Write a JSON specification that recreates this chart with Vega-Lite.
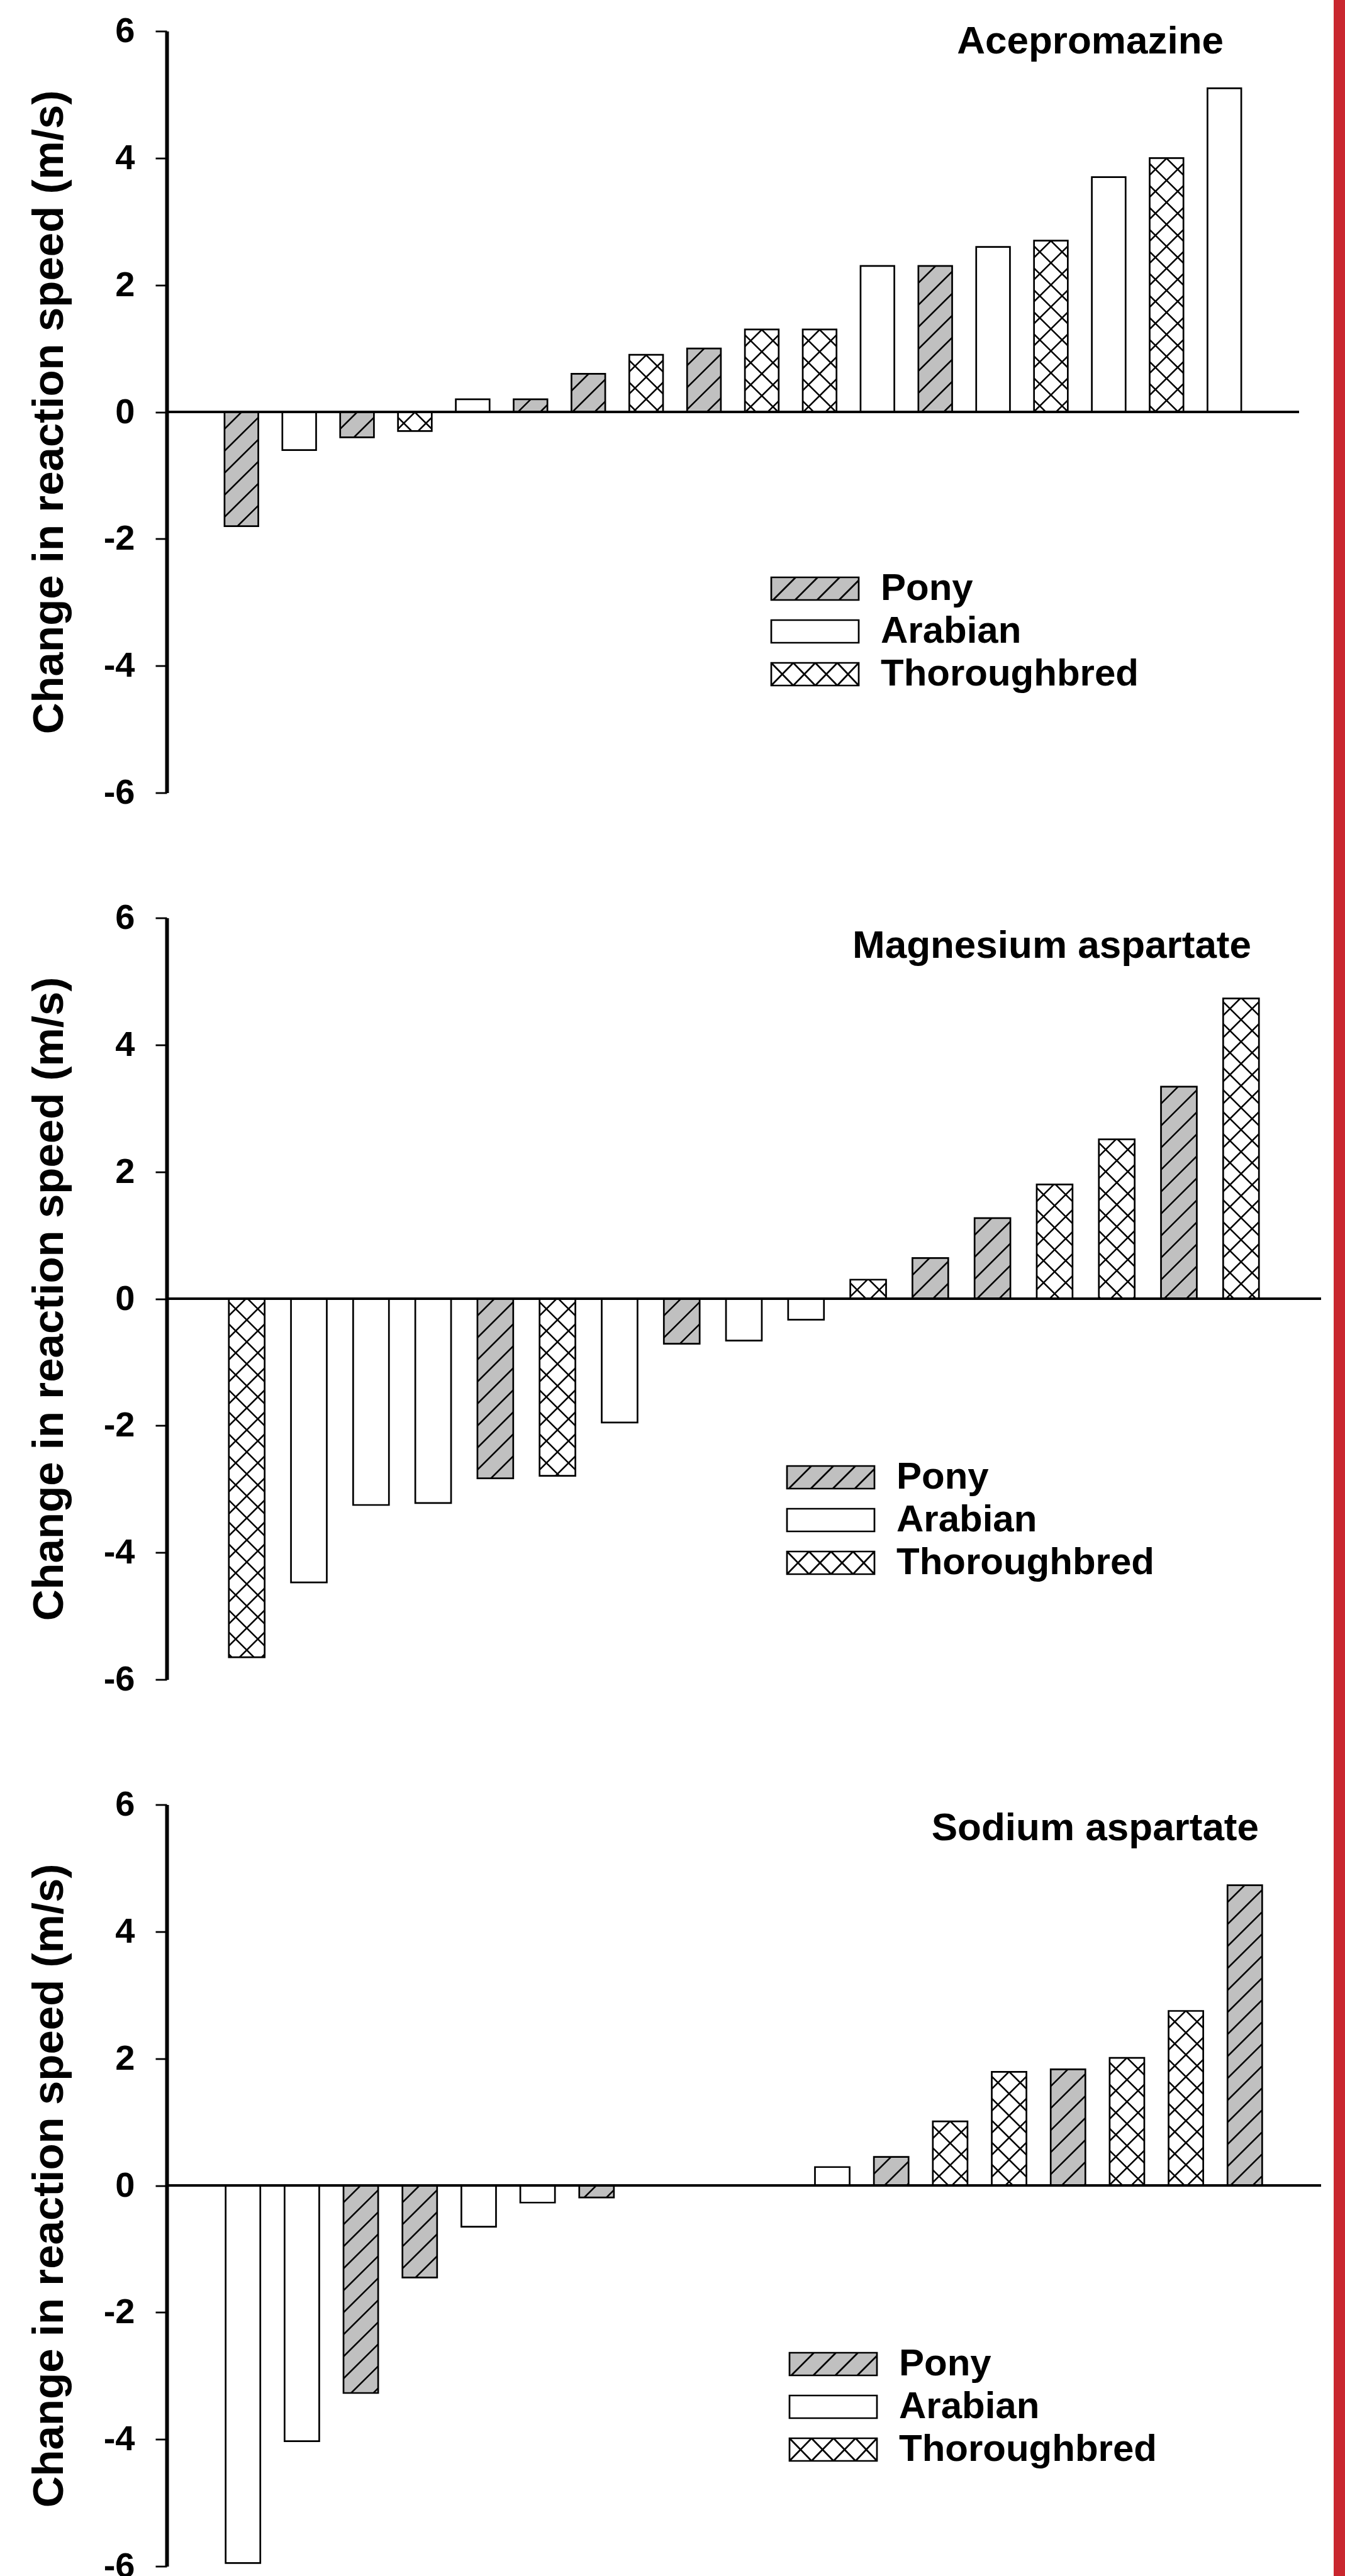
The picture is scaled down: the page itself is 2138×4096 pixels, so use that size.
{
  "$schema": "https://vega.github.io/schema/vega-lite/v6.json",
  "padding": {"left": 44, "top": 0, "right": 0, "bottom": 0},
  "background": "white",
  "params": [
    {"name": "hatchStops", "value": [
      {"offset": 0.03514, "color": "rgba(0,0,0,0)"}, {"offset": 0.03686, "color": "#000"}, {"offset": 0.04029, "color": "#000"}, {"offset": 0.042, "color": "rgba(0,0,0,0)"},
      {"offset": 0.08514, "color": "rgba(0,0,0,0)"}, {"offset": 0.08686, "color": "#000"}, {"offset": 0.09029, "color": "#000"}, {"offset": 0.092, "color": "rgba(0,0,0,0)"},
      {"offset": 0.13514, "color": "rgba(0,0,0,0)"}, {"offset": 0.13686, "color": "#000"}, {"offset": 0.14029, "color": "#000"}, {"offset": 0.142, "color": "rgba(0,0,0,0)"},
      {"offset": 0.18514, "color": "rgba(0,0,0,0)"}, {"offset": 0.18686, "color": "#000"}, {"offset": 0.19029, "color": "#000"}, {"offset": 0.192, "color": "rgba(0,0,0,0)"},
      {"offset": 0.23514, "color": "rgba(0,0,0,0)"}, {"offset": 0.23686, "color": "#000"}, {"offset": 0.24029, "color": "#000"}, {"offset": 0.242, "color": "rgba(0,0,0,0)"},
      {"offset": 0.28514, "color": "rgba(0,0,0,0)"}, {"offset": 0.28686, "color": "#000"}, {"offset": 0.29029, "color": "#000"}, {"offset": 0.292, "color": "rgba(0,0,0,0)"},
      {"offset": 0.33514, "color": "rgba(0,0,0,0)"}, {"offset": 0.33686, "color": "#000"}, {"offset": 0.34029, "color": "#000"}, {"offset": 0.342, "color": "rgba(0,0,0,0)"},
      {"offset": 0.38514, "color": "rgba(0,0,0,0)"}, {"offset": 0.38686, "color": "#000"}, {"offset": 0.39029, "color": "#000"}, {"offset": 0.392, "color": "rgba(0,0,0,0)"},
      {"offset": 0.43514, "color": "rgba(0,0,0,0)"}, {"offset": 0.43686, "color": "#000"}, {"offset": 0.44029, "color": "#000"}, {"offset": 0.442, "color": "rgba(0,0,0,0)"},
      {"offset": 0.48514, "color": "rgba(0,0,0,0)"}, {"offset": 0.48686, "color": "#000"}, {"offset": 0.49029, "color": "#000"}, {"offset": 0.492, "color": "rgba(0,0,0,0)"},
      {"offset": 0.53514, "color": "rgba(0,0,0,0)"}, {"offset": 0.53686, "color": "#000"}, {"offset": 0.54029, "color": "#000"}, {"offset": 0.542, "color": "rgba(0,0,0,0)"},
      {"offset": 0.58514, "color": "rgba(0,0,0,0)"}, {"offset": 0.58686, "color": "#000"}, {"offset": 0.59029, "color": "#000"}, {"offset": 0.592, "color": "rgba(0,0,0,0)"},
      {"offset": 0.63514, "color": "rgba(0,0,0,0)"}, {"offset": 0.63686, "color": "#000"}, {"offset": 0.64029, "color": "#000"}, {"offset": 0.642, "color": "rgba(0,0,0,0)"},
      {"offset": 0.68514, "color": "rgba(0,0,0,0)"}, {"offset": 0.68686, "color": "#000"}, {"offset": 0.69029, "color": "#000"}, {"offset": 0.692, "color": "rgba(0,0,0,0)"},
      {"offset": 0.73514, "color": "rgba(0,0,0,0)"}, {"offset": 0.73686, "color": "#000"}, {"offset": 0.74029, "color": "#000"}, {"offset": 0.742, "color": "rgba(0,0,0,0)"},
      {"offset": 0.78514, "color": "rgba(0,0,0,0)"}, {"offset": 0.78686, "color": "#000"}, {"offset": 0.79029, "color": "#000"}, {"offset": 0.792, "color": "rgba(0,0,0,0)"},
      {"offset": 0.83514, "color": "rgba(0,0,0,0)"}, {"offset": 0.83686, "color": "#000"}, {"offset": 0.84029, "color": "#000"}, {"offset": 0.842, "color": "rgba(0,0,0,0)"},
      {"offset": 0.88514, "color": "rgba(0,0,0,0)"}, {"offset": 0.88686, "color": "#000"}, {"offset": 0.89029, "color": "#000"}, {"offset": 0.892, "color": "rgba(0,0,0,0)"},
      {"offset": 0.93514, "color": "rgba(0,0,0,0)"}, {"offset": 0.93686, "color": "#000"}, {"offset": 0.94029, "color": "#000"}, {"offset": 0.942, "color": "rgba(0,0,0,0)"},
      {"offset": 0.98514, "color": "rgba(0,0,0,0)"}, {"offset": 0.98686, "color": "#000"}, {"offset": 0.99029, "color": "#000"}, {"offset": 0.992, "color": "rgba(0,0,0,0)"}
    ]}
  ],
  "datasets": {
    "horses": [
      {"drug": "Acepromazine", "horse": 1, "breed": "Pony", "change": -1.8},
      {"drug": "Acepromazine", "horse": 2, "breed": "Arabian", "change": -0.6},
      {"drug": "Acepromazine", "horse": 3, "breed": "Pony", "change": -0.4},
      {"drug": "Acepromazine", "horse": 4, "breed": "Thoroughbred", "change": -0.3},
      {"drug": "Acepromazine", "horse": 5, "breed": "Arabian", "change": 0.2},
      {"drug": "Acepromazine", "horse": 6, "breed": "Pony", "change": 0.2},
      {"drug": "Acepromazine", "horse": 7, "breed": "Pony", "change": 0.6},
      {"drug": "Acepromazine", "horse": 8, "breed": "Thoroughbred", "change": 0.9},
      {"drug": "Acepromazine", "horse": 9, "breed": "Pony", "change": 1.0},
      {"drug": "Acepromazine", "horse": 10, "breed": "Thoroughbred", "change": 1.3},
      {"drug": "Acepromazine", "horse": 11, "breed": "Thoroughbred", "change": 1.3},
      {"drug": "Acepromazine", "horse": 12, "breed": "Arabian", "change": 2.3},
      {"drug": "Acepromazine", "horse": 13, "breed": "Pony", "change": 2.3},
      {"drug": "Acepromazine", "horse": 14, "breed": "Arabian", "change": 2.6},
      {"drug": "Acepromazine", "horse": 15, "breed": "Thoroughbred", "change": 2.7},
      {"drug": "Acepromazine", "horse": 16, "breed": "Arabian", "change": 3.7},
      {"drug": "Acepromazine", "horse": 17, "breed": "Thoroughbred", "change": 4.0},
      {"drug": "Acepromazine", "horse": 18, "breed": "Arabian", "change": 5.1},
      {"drug": "Magnesium aspartate", "horse": 1, "breed": "Thoroughbred", "change": -5.65},
      {"drug": "Magnesium aspartate", "horse": 2, "breed": "Arabian", "change": -4.47},
      {"drug": "Magnesium aspartate", "horse": 3, "breed": "Arabian", "change": -3.25},
      {"drug": "Magnesium aspartate", "horse": 4, "breed": "Arabian", "change": -3.22},
      {"drug": "Magnesium aspartate", "horse": 5, "breed": "Pony", "change": -2.83},
      {"drug": "Magnesium aspartate", "horse": 6, "breed": "Thoroughbred", "change": -2.79},
      {"drug": "Magnesium aspartate", "horse": 7, "breed": "Arabian", "change": -1.95},
      {"drug": "Magnesium aspartate", "horse": 8, "breed": "Pony", "change": -0.71},
      {"drug": "Magnesium aspartate", "horse": 9, "breed": "Arabian", "change": -0.66},
      {"drug": "Magnesium aspartate", "horse": 10, "breed": "Arabian", "change": -0.33},
      {"drug": "Magnesium aspartate", "horse": 11, "breed": "Thoroughbred", "change": 0.3},
      {"drug": "Magnesium aspartate", "horse": 12, "breed": "Pony", "change": 0.64},
      {"drug": "Magnesium aspartate", "horse": 13, "breed": "Pony", "change": 1.27},
      {"drug": "Magnesium aspartate", "horse": 14, "breed": "Thoroughbred", "change": 1.8},
      {"drug": "Magnesium aspartate", "horse": 15, "breed": "Thoroughbred", "change": 2.51},
      {"drug": "Magnesium aspartate", "horse": 16, "breed": "Pony", "change": 3.34},
      {"drug": "Magnesium aspartate", "horse": 17, "breed": "Thoroughbred", "change": 4.73},
      {"drug": "Sodium aspartate", "horse": 1, "breed": "Arabian", "change": -5.95},
      {"drug": "Sodium aspartate", "horse": 2, "breed": "Arabian", "change": -4.03},
      {"drug": "Sodium aspartate", "horse": 3, "breed": "Pony", "change": -3.27},
      {"drug": "Sodium aspartate", "horse": 4, "breed": "Pony", "change": -1.45},
      {"drug": "Sodium aspartate", "horse": 5, "breed": "Arabian", "change": -0.65},
      {"drug": "Sodium aspartate", "horse": 6, "breed": "Arabian", "change": -0.27},
      {"drug": "Sodium aspartate", "horse": 7, "breed": "Pony", "change": -0.19},
      {"drug": "Sodium aspartate", "horse": 11, "breed": "Arabian", "change": 0.29},
      {"drug": "Sodium aspartate", "horse": 12, "breed": "Pony", "change": 0.45},
      {"drug": "Sodium aspartate", "horse": 13, "breed": "Thoroughbred", "change": 1.01},
      {"drug": "Sodium aspartate", "horse": 14, "breed": "Thoroughbred", "change": 1.79},
      {"drug": "Sodium aspartate", "horse": 15, "breed": "Pony", "change": 1.83},
      {"drug": "Sodium aspartate", "horse": 16, "breed": "Thoroughbred", "change": 2.01},
      {"drug": "Sodium aspartate", "horse": 17, "breed": "Thoroughbred", "change": 2.75},
      {"drug": "Sodium aspartate", "horse": 18, "breed": "Pony", "change": 4.73}
    ]
  },
  "config": {
    "view": {"stroke": null},
    "font": "Liberation Sans",
    "axis": {
      "grid": false, "domainColor": "black", "domainWidth": 6, "tickColor": "black", "tickWidth": 2.8, "tickSize": 18,
      "labelFont": "Liberation Sans", "labelFontWeight": "bold", "labelFontSize": 56, "labelColor": "black", "labelPadding": 33,
      "labelOverlap": false, "labelFlush": false, "labelBound": false,
      "titleFont": "Liberation Sans", "titleFontWeight": "bold", "titleFontSize": 69, "titleColor": "black", "titlePadding": 51
    },
    "legend": {
      "orient": "none", "labelFont": "Liberation Sans", "labelFontWeight": "bold", "labelFontSize": 60, "labelColor": "black",
      "labelOffset": 74, "labelLimit": 1000, "symbolSize": 3364, "symbolStrokeWidth": 2.7,
      "symbolOpacity": 1, "rowPadding": 7, "padding": 0
    },
    "title": {"font": "Liberation Sans", "fontWeight": "bold", "fontSize": 62, "color": "black", "anchor": "end", "frame": "group", "offset": 0, "baseline": "alphabetic"}
  },
  "hconcat": [
    {
      "vconcat": [
        {
          "width": 1800, "height": 1211,
          "data": {"name": "horses"},
          "transform": [{"filter": "datum.drug === 'Acepromazine'"}],
          "title": {"text": "Acepromazine", "dx": -120, "dy": 80},
          "layer": [
            {
              "encoding": {
                "x": {"field": "horse", "type": "ordinal", "scale": {"paddingInner": 0.416, "paddingOuter": 1.11}, "axis": null},
                "y": {"field": "change", "type": "quantitative", "scale": {"domain": [-6, 6], "nice": false, "zero": false}, "axis": {"title": "Change in reaction speed (m/s)", "values": [-6, -4, -2, 0, 2, 4, 6], "labelExpr": "datum.value < 0 ? '-' + abs(datum.value) : '' + datum.value", "domainWidth": 6}}
              },
              "layer": [
                {"mark": {"type": "bar", "stroke": "black", "strokeWidth": 2.7},
                 "encoding": {"fill": {"field": "breed", "type": "nominal", "scale": {"domain": ["Pony", "Arabian", "Thoroughbred"], "range": ["#c0c0c0", "#ffffff", "#ffffff"]}, "legend": {"title": null, "legendX": 1000, "legendY": 856}}}},
                {"transform": [{"filter": "datum.breed !== 'Arabian'"}],
                 "mark": {"type": "bar", "fill": {"expr": "{gradient:'linear',x1:0,y1:0,x2:700*53.1/(2819.6+pow(abs(datum.change)*100.92,2)),y2:700*abs(datum.change)*100.92/(2819.6+pow(abs(datum.change)*100.92,2)),stops:hatchStops}"}}},
                {"transform": [{"filter": "datum.breed === 'Thoroughbred'"}],
                 "mark": {"type": "bar", "fill": {"expr": "{gradient:'linear',x1:1,y1:0,x2:1-700*53.1/(2819.6+pow(abs(datum.change)*100.92,2)),y2:700*abs(datum.change)*100.92/(2819.6+pow(abs(datum.change)*100.92,2)),stops:hatchStops}"}}},
                {"transform": [{"filter": "false"}],
                 "mark": {"type": "point", "filled": true, "opacity": 1, "stroke": "black", "strokeWidth": 2.7, "size": 3364},
                 "encoding": {
                   "fill": {"field": "breed", "type": "nominal", "scale": {"domain": ["Pony", "Arabian", "Thoroughbred"], "range": ["#c0c0c0", "#ffffff", "#ffffff"]}, "legend": {"title": null, "legendX": 1000, "legendY": 856}},
                   "shape": {"field": "breed", "type": "nominal", "scale": {"domain": ["Pony", "Arabian", "Thoroughbred"], "range": [
                     "M-2.3966,-0.6207H2.3966V0.6207H-2.3966Z M-2.3,0.6207L-1.0586,-0.6207 M-1.0931,0.6207L0.1483,-0.6207 M0.1138,0.6207L1.3552,-0.6207 M1.3207,0.6207L2.3966,-0.4552",
                     "M-2.3966,-0.6207H2.3966V0.6207H-2.3966Z",
                     "M-2.3966,-0.6207H2.3966V0.6207H-2.3966Z M-2.3966,-0.6207L-1.1897,0.6207 M-1.1897,-0.6207L0.0172,0.6207 M0.0172,-0.6207L1.2241,0.6207 M1.2241,-0.6207L2.3966,0.6207 M-2.3966,0.6207L-1.1897,-0.6207 M-1.1897,0.6207L0.0172,-0.6207 M0.0172,0.6207L1.2241,-0.6207 M1.2241,0.6207L2.3966,-0.6207"
                   ]}, "legend": {"title": null, "legendX": 1000, "legendY": 856}}
                 }}
              ]
            },
            {"mark": {"type": "rule", "color": "black", "strokeWidth": 3.5},
             "encoding": {"y": {"datum": 0, "type": "quantitative", "scale": {"domain": [-6, 6], "nice": false}, "axis": {"title": "Change in reaction speed (m/s)", "values": [-6, -4, -2, 0, 2, 4, 6], "labelExpr": "datum.value < 0 ? '-' + abs(datum.value) : '' + datum.value", "domainWidth": 6}}}}
          ]
        },
        {
          "width": 1835, "height": 1211,
          "data": {"name": "horses"},
          "transform": [{"filter": "datum.drug === 'Magnesium aspartate'"}],
          "title": {"text": "Magnesium aspartate", "dx": -111, "dy": 108},
          "layer": [
            {
              "encoding": {
                "x": {"field": "horse", "type": "ordinal", "scale": {"paddingInner": 0.424, "paddingOuter": 1.05}, "axis": null},
                "y": {"field": "change", "type": "quantitative", "scale": {"domain": [-6, 6], "nice": false, "zero": false}, "axis": {"title": "Change in reaction speed (m/s)", "values": [-6, -4, -2, 0, 2, 4, 6], "labelExpr": "datum.value < 0 ? '-' + abs(datum.value) : '' + datum.value", "domainWidth": 6}}
              },
              "layer": [
                {"mark": {"type": "bar", "stroke": "black", "strokeWidth": 2.7},
                 "encoding": {"fill": {"field": "breed", "type": "nominal", "scale": {"domain": ["Pony", "Arabian", "Thoroughbred"], "range": ["#c0c0c0", "#ffffff", "#ffffff"]}, "legend": {"title": null, "legendX": 1025, "legendY": 859}}}},
                {"transform": [{"filter": "datum.breed !== 'Arabian'"}],
                 "mark": {"type": "bar", "fill": {"expr": "{gradient:'linear',x1:0,y1:0,x2:700*56.6/(3203.6+pow(abs(datum.change)*100.92,2)),y2:700*abs(datum.change)*100.92/(3203.6+pow(abs(datum.change)*100.92,2)),stops:hatchStops}"}}},
                {"transform": [{"filter": "datum.breed === 'Thoroughbred'"}],
                 "mark": {"type": "bar", "fill": {"expr": "{gradient:'linear',x1:1,y1:0,x2:1-700*56.6/(3203.6+pow(abs(datum.change)*100.92,2)),y2:700*abs(datum.change)*100.92/(3203.6+pow(abs(datum.change)*100.92,2)),stops:hatchStops}"}}},
                {"transform": [{"filter": "false"}],
                 "mark": {"type": "point", "filled": true, "opacity": 1, "stroke": "black", "strokeWidth": 2.7, "size": 3364},
                 "encoding": {
                   "fill": {"field": "breed", "type": "nominal", "scale": {"domain": ["Pony", "Arabian", "Thoroughbred"], "range": ["#c0c0c0", "#ffffff", "#ffffff"]}, "legend": {"title": null, "legendX": 1025, "legendY": 859}},
                   "shape": {"field": "breed", "type": "nominal", "scale": {"domain": ["Pony", "Arabian", "Thoroughbred"], "range": [
                     "M-2.3966,-0.6207H2.3966V0.6207H-2.3966Z M-2.3,0.6207L-1.0586,-0.6207 M-1.0931,0.6207L0.1483,-0.6207 M0.1138,0.6207L1.3552,-0.6207 M1.3207,0.6207L2.3966,-0.4552",
                     "M-2.3966,-0.6207H2.3966V0.6207H-2.3966Z",
                     "M-2.3966,-0.6207H2.3966V0.6207H-2.3966Z M-2.3966,-0.6207L-1.1897,0.6207 M-1.1897,-0.6207L0.0172,0.6207 M0.0172,-0.6207L1.2241,0.6207 M1.2241,-0.6207L2.3966,0.6207 M-2.3966,0.6207L-1.1897,-0.6207 M-1.1897,0.6207L0.0172,-0.6207 M0.0172,0.6207L1.2241,-0.6207 M1.2241,0.6207L2.3966,-0.6207"
                   ]}, "legend": {"title": null, "legendX": 1025, "legendY": 859}}
                 }}
              ]
            },
            {"mark": {"type": "rule", "color": "black", "strokeWidth": 3.5},
             "encoding": {"y": {"datum": 0, "type": "quantitative", "scale": {"domain": [-6, 6], "nice": false}, "axis": {"title": "Change in reaction speed (m/s)", "values": [-6, -4, -2, 0, 2, 4, 6], "labelExpr": "datum.value < 0 ? '-' + abs(datum.value) : '' + datum.value", "domainWidth": 6}}}}
          ]
        },
        {
          "width": 1835, "height": 1211,
          "data": {"name": "horses"},
          "transform": [{"filter": "datum.drug === 'Sodium aspartate'"}],
          "title": {"text": "Sodium aspartate", "dx": -99, "dy": 101},
          "layer": [
            {
              "encoding": {
                "x": {"field": "horse", "type": "ordinal", "scale": {"domain": [1, 2, 3, 4, 5, 6, 7, 8, 9, 10, 11, 12, 13, 14, 15, 16, 17, 18], "paddingInner": 0.412, "paddingOuter": 1.09}, "axis": null},
                "y": {"field": "change", "type": "quantitative", "scale": {"domain": [-6, 6], "nice": false, "zero": false}, "axis": {"title": "Change in reaction speed (m/s)", "values": [-6, -4, -2, 0, 2, 4, 6], "labelExpr": "datum.value < 0 ? '-' + abs(datum.value) : '' + datum.value", "domainWidth": 6}}
              },
              "layer": [
                {"mark": {"type": "bar", "stroke": "black", "strokeWidth": 2.7},
                 "encoding": {"fill": {"field": "breed", "type": "nominal", "scale": {"domain": ["Pony", "Arabian", "Thoroughbred"], "range": ["#c0c0c0", "#ffffff", "#ffffff"]}, "legend": {"title": null, "legendX": 1029, "legendY": 859}}}},
                {"transform": [{"filter": "datum.breed !== 'Arabian'"}],
                 "mark": {"type": "bar", "fill": {"expr": "{gradient:'linear',x1:0,y1:0,x2:700*54.6/(2981.2+pow(abs(datum.change)*100.92,2)),y2:700*abs(datum.change)*100.92/(2981.2+pow(abs(datum.change)*100.92,2)),stops:hatchStops}"}}},
                {"transform": [{"filter": "datum.breed === 'Thoroughbred'"}],
                 "mark": {"type": "bar", "fill": {"expr": "{gradient:'linear',x1:1,y1:0,x2:1-700*54.6/(2981.2+pow(abs(datum.change)*100.92,2)),y2:700*abs(datum.change)*100.92/(2981.2+pow(abs(datum.change)*100.92,2)),stops:hatchStops}"}}},
                {"transform": [{"filter": "false"}],
                 "mark": {"type": "point", "filled": true, "opacity": 1, "stroke": "black", "strokeWidth": 2.7, "size": 3364},
                 "encoding": {
                   "fill": {"field": "breed", "type": "nominal", "scale": {"domain": ["Pony", "Arabian", "Thoroughbred"], "range": ["#c0c0c0", "#ffffff", "#ffffff"]}, "legend": {"title": null, "legendX": 1029, "legendY": 859}},
                   "shape": {"field": "breed", "type": "nominal", "scale": {"domain": ["Pony", "Arabian", "Thoroughbred"], "range": [
                     "M-2.3966,-0.6207H2.3966V0.6207H-2.3966Z M-2.3,0.6207L-1.0586,-0.6207 M-1.0931,0.6207L0.1483,-0.6207 M0.1138,0.6207L1.3552,-0.6207 M1.3207,0.6207L2.3966,-0.4552",
                     "M-2.3966,-0.6207H2.3966V0.6207H-2.3966Z",
                     "M-2.3966,-0.6207H2.3966V0.6207H-2.3966Z M-2.3966,-0.6207L-1.1897,0.6207 M-1.1897,-0.6207L0.0172,0.6207 M0.0172,-0.6207L1.2241,0.6207 M1.2241,-0.6207L2.3966,0.6207 M-2.3966,0.6207L-1.1897,-0.6207 M-1.1897,0.6207L0.0172,-0.6207 M0.0172,0.6207L1.2241,-0.6207 M1.2241,0.6207L2.3966,-0.6207"
                   ]}, "legend": {"title": null, "legendX": 1029, "legendY": 859}}
                 }}
              ]
            },
            {"mark": {"type": "rule", "color": "black", "strokeWidth": 3.5},
             "encoding": {"y": {"datum": 0, "type": "quantitative", "scale": {"domain": [-6, 6], "nice": false}, "axis": {"title": "Change in reaction speed (m/s)", "values": [-6, -4, -2, 0, 2, 4, 6], "labelExpr": "datum.value < 0 ? '-' + abs(datum.value) : '' + datum.value", "domainWidth": 6}}}}
          ]
        }
      ],
      "spacing": 199,
      "bounds": "flush",
      "resolve": {"scale": {"fill": "independent", "shape": "independent"}, "legend": {"fill": "independent", "shape": "independent"}}
    },
    {
      "data": {"values": [{"strip": "border"}]},
      "mark": {"type": "rect", "color": "#c9272f"},
      "encoding": {},
      "width": 20,
      "height": 4158
    }
  ],
  "spacing": 18,
  "center": true
}
